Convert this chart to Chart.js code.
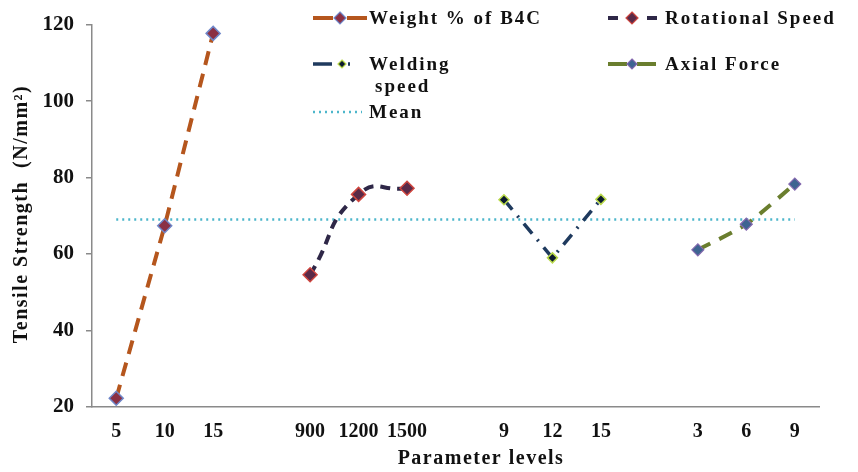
<!DOCTYPE html>
<html>
<head>
<meta charset="utf-8">
<title>Tensile strength vs parameter levels</title>
<script src="https://cdn.jsdelivr.net/npm/chart.js@4.4.0/dist/chart.umd.min.js"></script>
<style>
    html, body { margin: 0; padding: 0; background: #fff; }
    #wrap { width: 858px; height: 472px; position: relative; }
</style>
</head>
<body>
<div id="wrap"><canvas id="tensileChart"></canvas></div>
<script>
// x categories: four parameter groups with an empty slot between them
var levelLabels = ['5', '10', '15', '', '900', '1200', '1500', '', '9', '12', '15', '', '3', '6', '9'];

var weightB4C       = [22.3, 67.4, 117.7, null, null, null, null, null, null, null, null, null, null, null, null];
var rotationalSpeed = [null, null, null, null, 54.6, 75.6, 77.2, null, null, null, null, null, null, null, null];
var weldingSpeed    = [null, null, null, null, null, null, null, null, 74.2, 59.0, 74.3, null, null, null, null];
var axialForce      = [null, null, null, null, null, null, null, null, null, null, null, null, 61.1, 67.8, 78.3];
var meanStrength    = [69.0, 69.0, 69.0, 69.0, 69.0, 69.0, 69.0, 69.0, 69.0, 69.0, 69.0, 69.0, 69.0, 69.0, 69.0];

var yTicks = [20, 40, 60, 80, 100, 120];

var serif = "'Liberation Serif', 'Times New Roman', serif";

// where each legend entry sits (Excel style two column legend)
var legendSpots = [
    { x: 313, y: 18,  len: 54, dash: [20, 14],        mx: 340, tx: 369 },
    { x: 608, y: 18,  len: 49, dash: [10, 29],        mx: 632, tx: 665 },
    { x: 313, y: 64,  len: 38, dash: [19, 16, 2, 20], mx: 342, tx: 369, wrap: true },
    { x: 608, y: 64,  len: 48, dash: [19, 10],        mx: 632, tx: 665 },
    { x: 313, y: 112, len: 49, dash: [2, 4],          mx: null, tx: 369 }
];

function diamond(ctx, x, y, r, fill, stroke, lw) {
    ctx.save();
    ctx.setLineDash([]);
    ctx.beginPath();
    ctx.moveTo(x, y - r);
    ctx.lineTo(x + r, y);
    ctx.lineTo(x, y + r);
    ctx.lineTo(x - r, y);
    ctx.closePath();
    ctx.fillStyle = fill;
    ctx.fill();
    ctx.lineWidth = lw;
    ctx.strokeStyle = stroke;
    ctx.stroke();
    ctx.restore();
}

var excelLegend = {
    id: 'excelLegend',
    afterDraw: function(chart) {
        var ctx = chart.ctx;
        var sets = chart.data.datasets;

        ctx.save();
        ctx.font = 'bold 19px ' + serif;
        ctx.fillStyle = '#111';
        ctx.textBaseline = 'middle';
        ctx.textAlign = 'left';
        if ('letterSpacing' in ctx) ctx.letterSpacing = '2px';

        legendSpots.forEach(function(spot, i) {
            var ds = sets[i];
            ctx.save();
            ctx.strokeStyle = ds.borderColor;
            ctx.lineWidth = Math.min(ds.borderWidth, 4);
            ctx.setLineDash(spot.dash);
            ctx.beginPath();
            ctx.moveTo(spot.x, spot.y);
            ctx.lineTo(spot.x + spot.len, spot.y);
            ctx.stroke();
            ctx.restore();

            if (spot.mx !== null) {
                diamond(ctx, spot.mx, spot.y, ds.pointRadius - 1, ds.pointBackgroundColor, ds.pointBorderColor, 1.2);
            }

            var lines = spot.wrap ? ds.label.split(' ') : [ds.label];
            lines.forEach(function(line, k) {
                ctx.fillText(line, spot.tx + (k > 0 ? 6 : 0), spot.y + 1 + k * 22);
            });
        });

        // axis titles
        ctx.font = 'bold 20px ' + serif;
        ctx.textAlign = 'center';
        if ('letterSpacing' in ctx) ctx.letterSpacing = '1.5px';
        ctx.fillText('Parameter levels', 481, 459);

        ctx.translate(22, 214);
        ctx.rotate(-Math.PI / 2);
        ctx.fillText('Tensile Strength  (N/mm\u00B2)', 0, 0);
        ctx.restore();
    }
};

var ctx = document.getElementById('tensileChart');

var tensileChart = new Chart(ctx, {
    type: 'line',
    data: {
        labels: levelLabels,
        datasets: [{
            label: 'Weight % of B4C',
            data: weightB4C,
            borderColor: '#B5561D',
            borderWidth: 4,
            borderDash: [14, 9],
            tension: 0,
            pointStyle: 'rectRot',
            pointRadius: 7,
            pointBackgroundColor: '#8B3044',
            pointBorderColor: '#6F87C9',
            pointBorderWidth: 1.5
        }, {
            label: 'Rotational Speed',
            data: rotationalSpeed,
            borderColor: '#2E2747',
            borderWidth: 4,
            borderDash: [10, 7],
            tension: 0.55,
            pointStyle: 'rectRot',
            pointRadius: 7,
            pointBackgroundColor: '#5A2A48',
            pointBorderColor: '#D0463F',
            pointBorderWidth: 1.5
        }, {
            label: 'Welding speed',
            data: weldingSpeed,
            borderColor: '#1F3A5E',
            borderWidth: 3.5,
            borderDash: [13, 8, 2, 8],
            tension: 0,
            pointStyle: 'rectRot',
            pointRadius: 5,
            pointBackgroundColor: '#0B1A2E',
            pointBorderColor: '#B9D94A',
            pointBorderWidth: 1.5
        }, {
            label: 'Axial Force',
            data: axialForce,
            borderColor: '#6A7E2E',
            borderWidth: 4,
            borderDash: [14, 10],
            tension: 0.25,
            pointStyle: 'rectRot',
            pointRadius: 6,
            pointBackgroundColor: '#3E6491',
            pointBorderColor: '#8468AE',
            pointBorderWidth: 1.2
        }, {
            label: 'Mean',
            data: meanStrength,
            borderColor: '#4DB6CB',
            borderWidth: 2.5,
            borderDash: [2, 4],
            tension: 0,
            pointRadius: 0,
            order: 5
        }]
    },
    options: {
        responsive: true,
        maintainAspectRatio: false,
        animation: false,
        spanGaps: false,
        layout: {
            padding: { left: 0, top: 23, right: 39, bottom: 0 }
        },
        plugins: {
            legend: { display: false },
            tooltip: { enabled: false }
        },
        scales: {
            x: {
                offset: true,
                afterFit: function(scale) { scale.height = 65; },
                grid: { display: true, offset: true, drawOnChartArea: false, drawTicks: false },
                border: { display: true, color: '#8A8A8A', width: 1.5 },
                ticks: {
                    autoSkip: false,
                    maxRotation: 0,
                    padding: 13,
                    color: '#111',
                    font: { family: serif, size: 20, weight: 'bold' }
                }
            },
            y: {
                min: 20,
                max: 120,
                afterFit: function(scale) { scale.width = 92; },
                afterBuildTicks: function(scale) {
                    scale.ticks = yTicks.map(function(v) { return { value: v }; });
                },
                grid: { display: true, drawOnChartArea: false, drawTicks: true, tickLength: 6, color: '#8A8A8A', lineWidth: 1.5 },
                border: { display: true, color: '#8A8A8A', width: 1.5 },
                ticks: {
                    padding: 12,
                    color: '#111',
                    font: { family: serif, size: 21, weight: 'bold' }
                }
            }
        }
    },
    plugins: [excelLegend]
});
</script>
</body>
</html>
